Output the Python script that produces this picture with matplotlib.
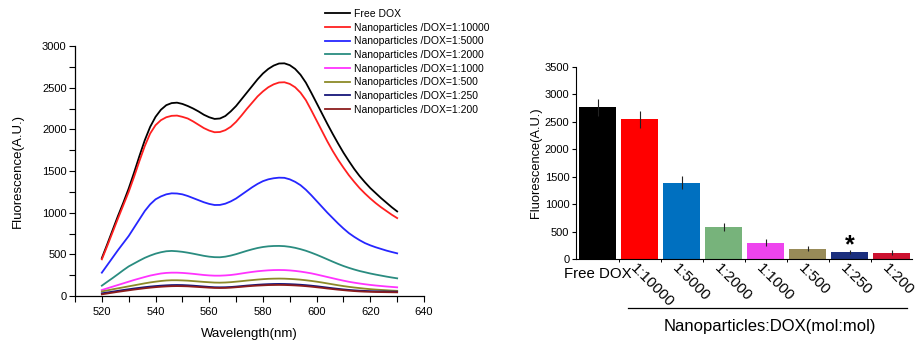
import matplotlib
matplotlib.use("Agg")
import matplotlib.pyplot as plt
from matplotlib.ticker import MultipleLocator, FixedLocator

plt.rcParams['font.family'] = ['Liberation Sans', 'DejaVu Sans']

# ---------------- data: spectra (read every 2 nm) ----------------
wavelength = list(range(520, 631, 2))
free_dox = [455, 620, 790, 960, 1120, 1290, 1480, 1680, 1870, 2030, 2150, 2235, 2290, 2315,
            2320, 2305, 2280, 2250, 2215, 2175, 2145, 2125, 2130, 2160, 2215, 2280, 2360, 2440,
            2520, 2600, 2670, 2725, 2765, 2790, 2792, 2770, 2725, 2655, 2560, 2440, 2315, 2190,
            2065, 1945, 1830, 1720, 1620, 1525, 1440, 1365, 1295, 1235, 1175, 1120, 1065, 1015]
np_10000 = [440, 600, 765, 930, 1090, 1250, 1430, 1620, 1800, 1950, 2050, 2110, 2145, 2162,
            2165, 2150, 2130, 2095, 2055, 2015, 1985, 1965, 1968, 1990, 2030, 2090, 2165, 2245,
            2320, 2395, 2455, 2505, 2540, 2562, 2565, 2545, 2505, 2440, 2350, 2230, 2105, 1980,
            1855, 1740, 1635, 1540, 1450, 1370, 1295, 1230, 1170, 1115, 1065, 1020, 975, 935]
np_5000 = [280, 370, 460, 550, 635, 720, 820, 920, 1020, 1100, 1160, 1195, 1220, 1232,
           1230, 1220, 1200, 1175, 1150, 1125, 1105, 1092, 1093, 1108, 1135, 1170, 1215, 1260,
           1305, 1345, 1378, 1400, 1413, 1420, 1418, 1400, 1370, 1330, 1275, 1210, 1140, 1070,
           1000, 935, 870, 810, 755, 710, 670, 635, 608, 585, 565, 545, 528, 512]
np_2000 = [124, 170, 215, 262, 310, 355, 390, 425, 458, 485, 508, 525, 537, 541,
           537, 530, 520, 508, 495, 482, 472, 466, 465, 472, 485, 502, 522, 542,
           560, 576, 588, 596, 600, 601, 598, 590, 578, 562, 543, 520, 495, 468,
           440, 412, 385, 360, 338, 318, 300, 285, 270, 257, 245, 233, 222, 212]
np_1000 = [72, 92, 112, 132, 152, 172, 192, 210, 228, 245, 258, 270, 277, 280,
           280, 277, 272, 266, 259, 252, 247, 244, 244, 247, 252, 260, 270, 280,
           289, 297, 303, 308, 311, 312, 311, 307, 301, 293, 283, 272, 258, 243,
           228, 213, 198, 184, 171, 160, 150, 141, 133, 126, 120, 114, 109, 104]
np_500 = [55, 67, 80, 92, 104, 116, 128, 140, 152, 163, 172, 180, 186, 189,
          189, 187, 184, 179, 174, 169, 165, 161, 160, 162, 166, 172, 178, 185,
          191, 197, 202, 206, 208, 209, 208, 205, 201, 196, 189, 181, 172, 162,
          151, 140, 129, 119, 110, 102, 95, 88, 82, 77, 73, 69, 65, 62]
np_250 = [32, 42, 52, 62, 72, 81, 90, 98, 106, 113, 119, 124, 128, 131,
          132, 131, 128, 124, 119, 114, 109, 105, 104, 105, 108, 113, 119, 125,
          130, 135, 139, 142, 144, 145, 144, 142, 139, 135, 130, 124, 117, 109,
          101, 93, 86, 79, 73, 68, 64, 61, 58, 56, 55, 54, 53, 52]
np_200 = [20, 30, 40, 50, 59, 68, 77, 85, 93, 100, 106, 111, 115, 118,
          119, 118, 116, 112, 108, 104, 100, 97, 96, 97, 100, 105, 110, 116,
          121, 125, 128, 131, 132, 133, 132, 130, 127, 123, 118, 112, 105, 98,
          90, 83, 76, 70, 64, 59, 55, 52, 50, 48, 47, 46, 45, 44]

series_labels = ['Free DOX',
                 'Nanoparticles /DOX=1:10000',
                 'Nanoparticles /DOX=1:5000',
                 'Nanoparticles /DOX=1:2000',
                 'Nanoparticles /DOX=1:1000',
                 'Nanoparticles /DOX=1:500',
                 'Nanoparticles /DOX=1:250',
                 'Nanoparticles /DOX=1:200']
series_colors = ['#000000', '#ff2020', '#2626ff', '#2a8c80', '#ff33ff',
                 '#8c8a28', '#16167a', '#8c1c1c']

# ---------------- data: bars ----------------
bar_labels = ['Free DOX', '1:10000', '1:5000', '1:2000', '1:1000', '1:500', '1:250', '1:200']
bar_values = [2760, 2545, 1395, 585, 305, 195, 135, 122]
bar_errors = [160, 155, 120, 70, 62, 48, 38, 38]
bar_colors = ['#000000', '#ff0000', '#0070c0', '#77b37b', '#ee44ee',
              '#988b58', '#1b2f7e', '#cc1230']
star_index = 6

W, H = 916, 344
fig = plt.figure(figsize=(W / 100, H / 100), dpi=100)

# ---------------- left: spectra ----------------
axL = fig.add_axes([75 / W, 48 / H, 349 / W, 250 / H])
all_series = [free_dox, np_10000, np_5000, np_2000, np_1000, np_500, np_250, np_200]
for vals, lab, col in zip(all_series, series_labels, series_colors):
    axL.plot(wavelength, vals, color=col, lw=1.3, label=lab)
axL.set_xlim(510, 640)
axL.set_ylim(0, 3000)
axL.xaxis.set_major_locator(MultipleLocator(20))
axL.xaxis.set_minor_locator(MultipleLocator(10))
axL.yaxis.set_major_locator(MultipleLocator(500))
axL.yaxis.set_minor_locator(MultipleLocator(250))
for s in ['top', 'right']:
    axL.spines[s].set_visible(False)
for s in ['left', 'bottom']:
    axL.spines[s].set_linewidth(0.9)
axL.tick_params(which='both', direction='out', labelsize=8, width=0.8)
axL.tick_params(axis='x', which='both', length=4, pad=4)
axL.tick_params(axis='y', which='both', length=4, pad=2)
axL.set_xlabel('Wavelength(nm)', fontsize=9.5, labelpad=8)
axL.set_ylabel('Fluorescence(A.U.)', fontsize=9.5, labelpad=13)

fig.legend(loc='upper left', bbox_to_anchor=(325 / W, 1 - 9 / H), frameon=False,
           fontsize=7.5, handlelength=2.4, handletextpad=0.35, labelspacing=0.35,
           borderpad=0, borderaxespad=0)

# ---------------- right: bars ----------------
axR = fig.add_axes([575.7 / W, 84.7 / H, 336 / W, 192.6 / H])
xpos = list(range(len(bar_values)))
axR.bar(xpos, bar_values, width=0.87, color=bar_colors, yerr=bar_errors,
        error_kw=dict(ecolor='#222222', elinewidth=0.8, capsize=0))
axR.set_xlim(-0.524, 7.476)
axR.set_ylim(0, 3500)
axR.yaxis.set_major_locator(MultipleLocator(500))
for s in ['top', 'right']:
    axR.spines[s].set_visible(False)
for s in ['left', 'bottom']:
    axR.spines[s].set_linewidth(0.8)
axR.tick_params(axis='y', direction='out', length=3, labelsize=8, pad=1.5, width=0.8)
axR.set_xticks(xpos)
axR.set_xticklabels([])
axR.xaxis.set_minor_locator(FixedLocator([i + 0.5 for i in xpos[:-1]]))
axR.tick_params(axis='x', which='major', length=0)
axR.tick_params(axis='x', which='minor', length=2.5, width=0.7, direction='out')
axR.set_ylabel('Fluorescence(A.U.)', fontsize=9.3, labelpad=2)

# tick labels: first horizontal, others rotated
for i, lab in enumerate(bar_labels):
    if i == 0:
        axR.text(i, -0.04, lab, transform=axR.get_xaxis_transform(), ha='center',
                 va='top', fontsize=10.8)
    else:
        axR.text(i - 0.06, -0.012, lab, transform=axR.get_xaxis_transform(), ha='left',
                 va='top', fontsize=10.8, rotation=-45, rotation_mode='anchor')

# significance star
axR.text(star_index, bar_values[star_index] + bar_errors[star_index] - 140, '*',
         ha='center', va='bottom', fontsize=18, fontweight='bold')

# group line and label
axR.plot([0.156, 0.986], [-0.251, -0.251], transform=axR.transAxes, color='black',
         lw=0.9, clip_on=False)
axR.text(0.578, -0.35, 'Nanoparticles:DOX(mol:mol)', transform=axR.transAxes,
         ha='center', va='center', fontsize=12)

fig.savefig('out.png', dpi=100)
